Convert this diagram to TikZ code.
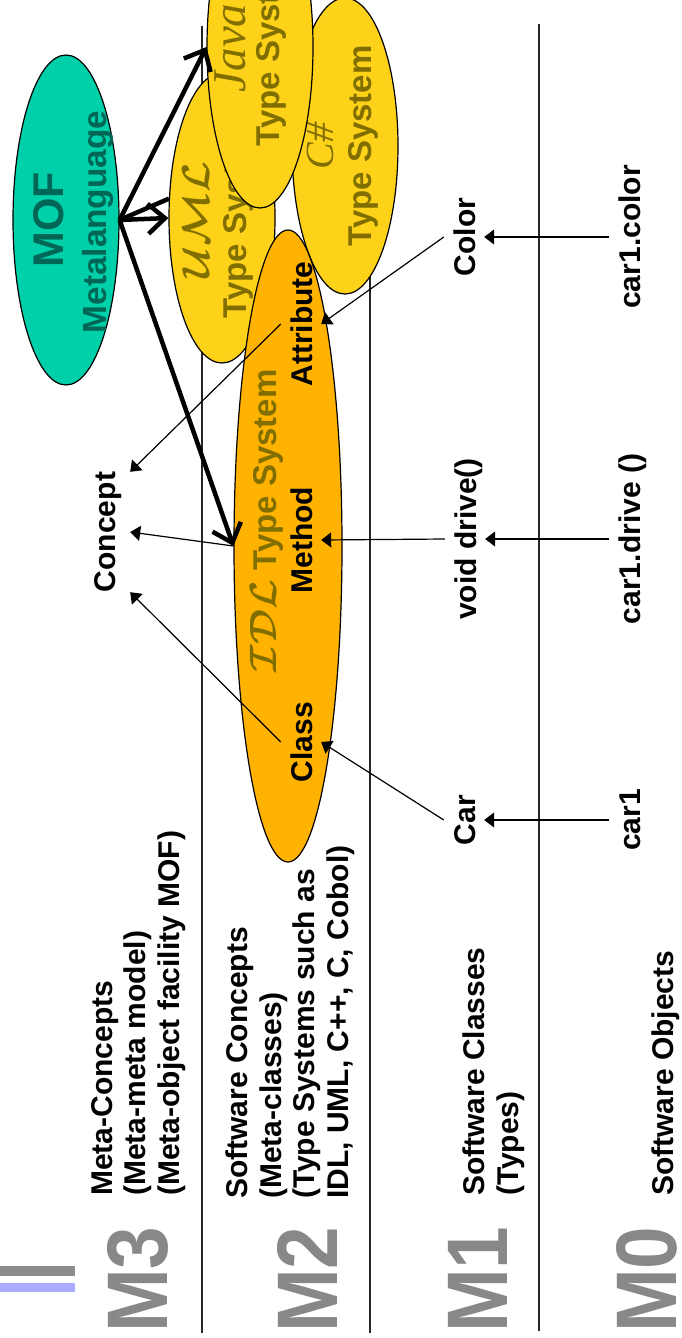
\documentclass[tikz,border=0pt]{standalone}
\usepackage{fontspec}
\setmainfont{Liberation Sans}
\newfontfamily\serifit{Liberation Serif}
\usetikzlibrary{arrows.meta,shapes.geometric}
\definecolor{mofteal}{RGB}{0,208,170}
\definecolor{moftext}{RGB}{0,102,85}
\definecolor{tsyellow}{RGB}{255,210,26}
\definecolor{idlorange}{RGB}{255,178,0}
\definecolor{tsolive}{RGB}{128,110,0}
\definecolor{mgray}{RGB}{136,136,136}
\definecolor{bargray}{RGB}{140,140,140}
\definecolor{barblue}{RGB}{170,170,255}
\newcommand{\calword}[2]{\scalebox{#1}{\normalsize\boldmath$\mathcal{#2}$}}
\tikzset{
  ell/.style={ellipse, draw, line width=1.2pt, inner sep=0pt},
  lbl/.style={rotate=90, anchor=base, font=\fontsize{30}{33.5}\selectfont\bfseries,
              inner xsep=0pt, inner ysep=9pt, text height=22pt, text depth=0pt},
  tstext/.style={rotate=90, anchor=base, text=tsolive, inner sep=0pt,
              font=\fontsize{33}{33}\selectfont\bfseries},
  script/.style={rotate=90, anchor=base, text=tsolive, inner sep=0pt},
  layertext/.style={rotate=90, anchor=north west, align=left, inner sep=0pt,
              font=\fontsize{30}{33.5}\selectfont\bfseries},
  mlabel/.style={rotate=90, anchor=base west, inner sep=0pt, text=mgray,
              font=\fontsize{86}{86}\selectfont\bfseries},
  sepline/.style={line width=1.2pt, black!85},
  thinarrow/.style={line width=1.2pt, -{Triangle[length=10pt,width=15pt]}},
  thickarrow/.style={line width=4.5pt, -{Straight Barb[length=17pt,width=30pt]}},
  thickline/.style={line width=4.5pt}
}
\begin{document}
\begin{tikzpicture}[x=1pt,y=-1pt]
\clip (0,0) rectangle (682,1338);
\fill[white] (0,0) rectangle (682,1338);
% title bars
\fill[bargray] (0,1266) rectangle (75,1276);
\fill[barblue] (0,1283) rectangle (75,1292);
% layer separators
\draw[sepline] (202,26) -- (202,1333);
\draw[sepline] (370,26) -- (370,1333);
\draw[sepline] (539,24) -- (539,1331);
% UML type system
\node[ell, fill=tsyellow, minimum width=106pt, minimum height=290pt] (UML) at (222,218) {};
\node[script] (umlname) at (209,220) {\calword{3.9}{UML}};
\node[tstext] (umlts) at (246,218) {Type System};
% C# type system
\node[ell, fill=tsyellow, minimum width=106pt, minimum height=296pt] (CS) at (345,146) {};
\node[script, font=\fontsize{40}{40}\selectfont\serifit\itshape] (csname) at (333,146) {C\#};
\node[tstext] (csts) at (371,146) {Type System};
% Java type system
\node[ell, fill=tsyellow, minimum width=106pt, minimum height=322pt] (Java) at (260,47) {};
\node[script, font=\fontsize{47}{47}\selectfont\serifit\itshape] (javaname) at (245,48) {Java};
\node[tstext] (javats) at (279,46) {Type System};
% IDL type system
\node[ell, fill=idlorange, minimum width=108pt, minimum height=632pt] (IDL) at (288,546) {};
\node[tstext] (idlts) at (276,521) {\calword{3.8}{IDL} Type System};
% MOF
\node[ell, fill=mofteal, minimum width=106pt, minimum height=330pt] (MOF) at (66,220) {};
\node[rotate=90, anchor=base, inner sep=0pt, text=moftext, font=\fontsize{43}{43}\selectfont\bfseries] (moft) at (63,220) {MOF};
\node[rotate=90, anchor=base, inner sep=0pt, text=moftext, font=\fontsize{33.4}{33.4}\selectfont\bfseries] (metal) at (106,222) {Metalanguage};
% concept labels
\node[lbl, text depth=6pt] (concept) at (115,532) {Concept};
\node[lbl] (attribute) at (312,324) {Attribute};
\node[lbl] (method) at (312,540) {Method};
\node[lbl] (class) at (312,742) {Class};
\node[lbl] (color) at (475,237) {Color};
\node[lbl] (drive) at (476,539) {void drive()};
\node[lbl] (car) at (475,820) {Car};
\node[lbl] (c1color) at (640,237) {car1.color};
\node[lbl] (c1drive) at (640,539) {car1.drive ()};
\node[lbl] (c1) at (640,820) {car1};
% layer texts
\node[layertext] (m3t) at (91,1196) {Meta-Concepts\\(Meta-meta model)\\(Meta-object facility MOF)};
\node[layertext] (m2t) at (226,1199) {Software Concepts\\(Meta-classes)\\(Type Systems such as\\IDL, UML, C++, C, Cobol)};
\node[layertext] (m1t) at (463,1196) {Software Classes\\(Types)};
\node[layertext] (m0t) at (652,1196) {Software Objects};
% level labels
\node[mlabel] (m3) at (167,1333) {\scalebox{0.89}[1]{M3}};
\node[mlabel] (m2) at (337,1333) {\scalebox{0.89}[1]{M2}};
\node[mlabel] (m1) at (507,1333) {\scalebox{0.89}[1]{M1}};
\node[mlabel] (m0) at (676,1333) {\scalebox{0.89}[1]{M0}};
% thin arrows
\draw[thinarrow] (c1color.north) -- (color.south);
\draw[thinarrow] (c1drive.north) -- (drive.south);
\draw[thinarrow] (c1.north) -- (car.south);
\draw[thinarrow] (color.north) -- (attribute.south);
\draw[thinarrow] (drive.north) -- (method.south);
\draw[thinarrow] (car.north) -- (class.south);
\draw[thinarrow] (attribute.north) -- (concept.south east);
\draw[thinarrow] (IDL.west) -- (concept.south);
\draw[thinarrow] (class.north) -- (concept.south west);
% thick arrows from MOF
\draw[thickarrow] (MOF.east) -- (Java.west);
\draw[thickline] (MOF.east) -- (UML.160);
\draw[thickarrow] (MOF.east) -- (UML.west);
\draw[thickarrow] (MOF.east) -- (IDL.west);
\end{tikzpicture}
\end{document}
